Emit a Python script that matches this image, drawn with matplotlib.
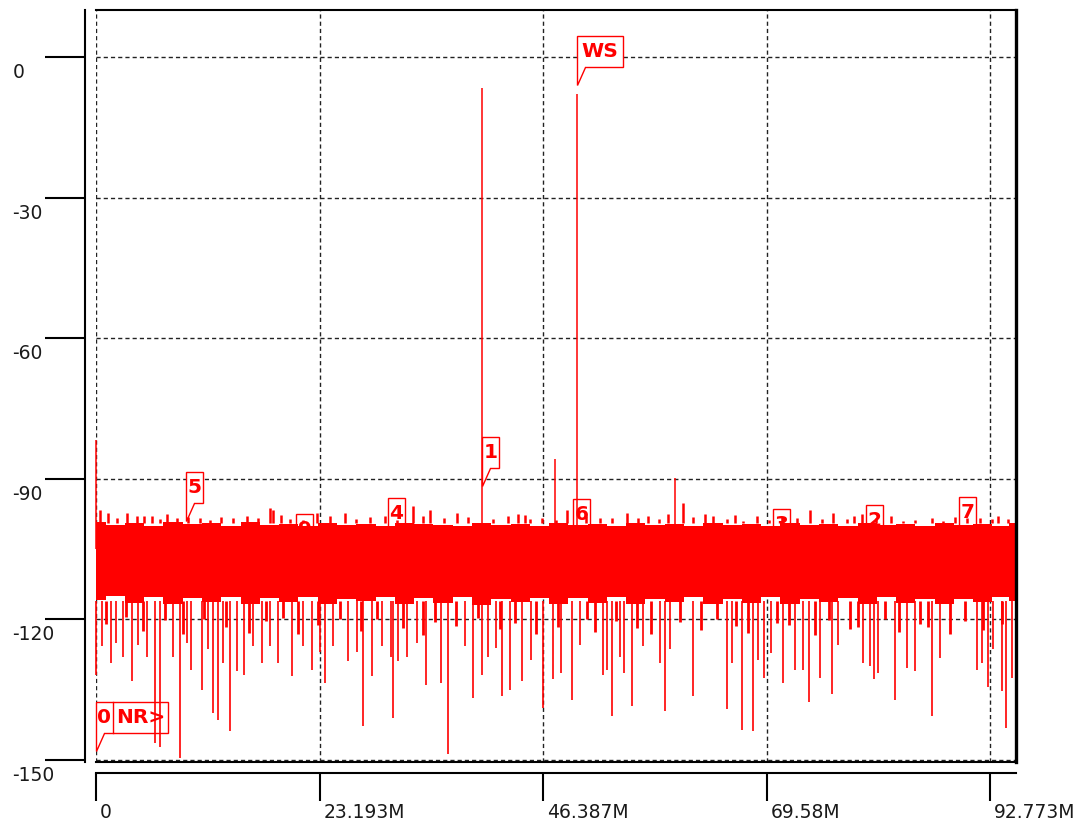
import matplotlib
matplotlib.use('Agg')
import matplotlib.pyplot as plt
import matplotlib.transforms as mtransforms
from matplotlib.patches import Polygon

# axis setup (frequency in MHz, level in dB)
freq_ticks = [0, 23.193, 46.387, 69.58, 92.773]
freq_labels = ['0', '23.193M', '46.387M', '69.58M', '92.773M']
db_ticks = [0, -30, -60, -90, -120, -150]
f_max = 95.44

# solid body of the noise floor
core_f = [0, 2, 4, 6, 8, 10, 12, 14, 16, 18, 20, 22, 24, 26, 28, 30, 32, 34, 36, 38,
          40, 42, 44, 46, 48, 50, 52, 54, 56, 58, 60, 62, 64, 66, 68, 70, 72, 74, 76, 78,
          80, 82, 84, 86, 88, 90, 92, 94, 95.44]
core_top = [-99.2, -99.8, -99.4, -100.0, -99.3, -99.7, -99.5, -100.1, -99.3, -99.8,
            -99.6, -100.0, -99.4, -99.8, -99.6, -100.1, -99.5, -99.7, -99.8, -100.0,
            -99.5, -99.9, -99.6, -100.1, -99.4, -99.8, -99.7, -100.0, -99.5, -99.8,
            -99.7, -100.1, -99.5, -99.9, -99.7, -100.0, -99.4, -99.8, -99.7, -100.1,
            -99.5, -99.8, -99.6, -100.1, -99.5, -99.9, -99.7, -100.0, -99.4]
core_bot = [-115.8, -115.0, -116.5, -115.3, -116.8, -115.5, -116.2, -115.1, -116.6, -115.4,
            -116.3, -115.2, -116.8, -115.6, -116.1, -115.3, -116.7, -115.5, -116.4, -115.2,
            -116.9, -115.6, -116.2, -115.4, -116.6, -115.5, -116.5, -115.1, -116.8, -115.7,
            -116.3, -115.3, -116.6, -115.6, -116.4, -115.2, -116.8, -115.6, -116.2, -115.4,
            -116.7, -115.3, -116.5, -115.6, -116.6, -115.7, -116.3, -115.2, -116.0]

# highest points of the upper fringe
up_f = [0.41, 1.24, 3.22, 4.25, 5.81, 7.37, 8.40, 10.79, 14.21, 15.66,
        18.05, 18.36, 20.12, 22.93, 25.83, 29.98, 32.88, 34.65, 37.45, 42.74,
        43.78, 45.02, 48.86, 52.28, 55.08, 56.22, 59.34, 60.89, 63.17, 64.00,
        67.12, 68.57, 74.07, 76.45, 77.90, 79.46, 83.71, 86.72, 87.86, 91.70,
        92.95, 94.61]
up_db = [-96.6, -97.2, -97.2, -97.9, -97.9, -97.6, -98.3, -98.3, -98.3, -97.9,
         -96.2, -96.6, -98.6, -97.2, -97.2, -97.9, -95.8, -96.6, -97.2, -97.9,
         -97.6, -98.6, -96.6, -98.3, -97.2, -98.3, -97.6, -95.1, -97.6, -97.9,
         -98.9, -97.9, -96.6, -97.2, -98.6, -97.6, -98.9, -98.3, -98.9, -98.3,
         -98.6, -98.6]

# lower ridge of the upper fringe
ridge_f = [2.2, 5.0, 6.6, 9.5, 11.8, 13.0, 16.8, 19.2, 21.5, 24.3,
           27.0, 28.4, 31.2, 33.9, 36.1, 38.6, 41.2, 44.5, 46.3, 47.7,
           50.8, 53.5, 57.3, 58.4, 61.9, 65.5, 66.3, 69.8, 71.2, 72.7,
           75.3, 78.6, 80.9, 82.5, 85.0, 89.1, 90.4, 93.6]
ridge_db = [-98.3, -97.9, -98.6, -98.1, -98.8, -98.2, -98.4, -97.8, -98.7, -98.0,
            -98.5, -98.2, -98.8, -97.9, -98.3, -98.1, -98.6, -97.8, -98.4, -98.7,
            -98.0, -98.3, -97.9, -98.6, -98.2, -98.5, -97.8, -98.7, -98.1, -98.3,
            -98.6, -98.0, -98.4, -97.9, -98.7, -98.2, -98.3, -98.0]

# ragged lower edge of the noise
low_f = [1.0, 3.1, 4.9, 7.2, 9.0, 11.2, 13.5, 15.9, 17.6, 19.4,
         21.0, 23.0, 25.3, 27.5, 29.1, 31.8, 33.9, 35.2, 37.3, 39.6,
         41.9, 43.5, 45.6, 47.9, 50.9, 51.8, 53.9, 56.1, 57.6, 60.6,
         62.8, 64.4, 66.4, 67.6, 70.6, 71.9, 74.6, 76.0, 78.2, 79.1,
         81.9, 83.3, 85.5, 86.3, 88.6, 90.1, 92.0, 94.0]
low_db = [-121.0, -119.5, -122.4, -120.1, -123.0, -119.8, -121.6, -122.8, -120.4, -119.6,
          -123.2, -121.1, -120.0, -122.5, -119.9, -121.8, -123.4, -120.6, -121.3, -119.7,
          -122.1, -120.8, -123.0, -121.5, -119.8, -122.6, -120.3, -121.9, -123.1, -120.5,
          -122.2, -119.9, -121.4, -122.9, -120.7, -121.2, -123.3, -120.1, -122.0, -121.6,
          -119.8, -122.7, -120.9, -121.5, -123.0, -120.4, -122.3, -121.0]

# deep downward spikes
down_f = [0.0, 0.59, 1.52, 2.07, 2.80, 3.70, 4.36, 5.26, 6.12, 6.64, 7.96, 8.71,
          9.41, 9.82, 10.96, 11.65, 12.17, 12.69, 13.17, 13.90, 14.60, 15.35,
          16.32, 17.19, 18.05, 18.88, 20.30, 21.50, 22.38, 23.24, 23.76, 24.62,
          26.17, 27.04, 27.73, 28.60, 29.64, 30.60, 30.78, 31.36, 32.29, 33.27,
          34.23, 35.76, 36.55, 38.28, 39.14, 40.01, 40.70, 41.49, 42.09, 42.95,
          44.16, 45.09, 46.34, 47.38, 48.21, 49.35, 50.21, 52.56, 52.98, 53.50,
          54.36, 54.77, 55.57, 56.77, 58.51, 59.02, 59.54, 61.96, 65.49, 65.94,
          66.98, 68.12, 68.70, 69.33, 69.99, 71.30, 72.51, 73.31, 73.96, 75.10,
          76.32, 77.00, 79.59, 80.29, 80.74, 81.15, 82.88, 84.10, 84.96, 86.75,
          87.55, 91.36, 91.94, 92.56, 93.02, 93.95, 94.40, 94.99]
down_db = [-131.8, -125.7, -129.2, -125.0, -128.0, -133.2, -125.4, -127.9, -146.3, -147.3, -127.9, -149.5,
           -125.0, -130.7, -135.0, -126.4, -139.9, -141.4, -129.2, -143.8, -131.0, -131.8,
           -125.7, -129.2, -125.7, -129.2, -132.1, -125.7, -130.7, -127.0, -133.5, -125.7,
           -128.9, -127.0, -142.8, -132.1, -125.7, -127.9, -141.0, -128.9, -127.9, -125.0,
           -133.9, -133.5, -148.8, -125.7, -136.8, -131.8, -127.9, -126.0, -136.4, -135.0,
           -133.2, -128.6, -138.9, -132.8, -131.4, -137.1, -125.4, -131.8, -130.7, -140.6,
           -127.9, -131.4, -138.5, -125.7, -129.2, -139.6, -126.4, -136.4, -139.2, -129.3,
           -143.5, -143.8, -128.6, -132.5, -127.1, -133.5, -130.7, -130.7, -137.7, -132.5,
           -136.0, -125.4, -129.3, -130.0, -132.8, -131.4, -137.1, -130.3, -131.0, -140.6,
           -128.2, -130.7, -129.3, -134.3, -126.4, -135.3, -143.2, -132.5]

# tones standing above the floor
tone_f = [0.0, 40.04, 47.61, 49.90, 60.06, 95.44]
tone_db = [-81.7, -6.6, -85.7, -7.9, -89.8, -83.0]

# markers
marker_labels = ['0NR>', '5', '9', '4', '1', '6', 'WS', '3', '2', '7']
marker_f = [0.0, 9.34, 20.75, 30.29, 40.04, 49.48, 49.90, 70.23, 79.88, 89.52]
marker_db = [-148.0, -99.1, -108.0, -104.5, -91.5, -104.7, -6.0, -106.8, -106.0, -104.3]

RED = '#ff0000'

fig = plt.figure(figsize=(10.87, 8.23), dpi=100)
ax = fig.add_axes([96 / 1087, 1 - 762 / 823, 920 / 1087, 752 / 823])
ax.set_xlim(0, f_max)
ax.set_ylim(-150.4, 10.0)
ax.autoscale(False)

# frame
ax.spines['left'].set_position(('outward', 8))
ax.spines['bottom'].set_position(('outward', 8))
for s in ['left', 'bottom', 'top']:
    ax.spines[s].set_linewidth(1.5)
ax.spines['right'].set_linewidth(2.4)
ax.plot([0, 1], [0, 0], transform=ax.transAxes, color='black', lw=1.5,
        clip_on=False, zorder=2.5)

ax.set_xticks(freq_ticks)
ax.set_xticklabels(freq_labels)
ax.set_yticks(db_ticks)
ax.set_yticklabels([str(v) for v in db_ticks])
ax.tick_params(axis='y', direction='out', length=28.8, width=1.5, pad=23.3,
               labelsize=13.5, labelcolor='#1a1a1a')
ax.tick_params(axis='x', direction='out', length=20.2, width=1.5, pad=1.5,
               labelsize=13.5, labelcolor='#1a1a1a')
for lbl in ax.get_yticklabels():
    lbl.set_horizontalalignment('left')
    lbl.set_verticalalignment('top')
    lbl.set_transform(lbl.get_transform()
                      + mtransforms.ScaledTranslation(0, -0.06, fig.dpi_scale_trans))
for lbl in ax.get_xticklabels():
    lbl.set_horizontalalignment('left')
    lbl.set_transform(lbl.get_transform()
                      + mtransforms.ScaledTranslation(0.04, 0, fig.dpi_scale_trans))

ax.set_axisbelow(True)
ax.grid(True, color='#222222', linestyle=(0, (3, 2.2)), linewidth=1.0)

# spectrum
ax.fill_between(core_f, core_bot, core_top, step='mid', color=RED, lw=0, zorder=2.2)
ax.vlines(up_f, -99.5, up_db, color=RED, lw=1.8, zorder=2.2)
ax.vlines(ridge_f, -99.5, ridge_db, color=RED, lw=1.8, zorder=2.2)
ax.vlines(low_f, low_db, -116, color=RED, lw=2.0, zorder=2.2)
ax.vlines(down_f, down_db, -116, color=RED, lw=1.2, zorder=2.2, clip_on=False)
ax.vlines(tone_f, -105, tone_db, color=RED, lw=1.1, zorder=2.2, clip_on=False)

# marker callouts drawn in pixels
ident = mtransforms.IdentityTransform()
for lab, f, db in zip(marker_labels, marker_f, marker_db):
    tx, ty = ax.transData.transform((f, db))
    w = 72 if lab == '0NR>' else (46 if len(lab) == 2 else 17)
    b = ty + 18
    t = b + 31
    r = tx + w
    poly = Polygon([(tx, ty), (tx, t), (r, t), (r, b), (tx + 8, b)], closed=True,
                   facecolor='white', edgecolor=RED, lw=1.0, transform=ident,
                   zorder=1.8, clip_on=False)
    ax.add_artist(poly)
    if lab == '0NR>':
        ax.plot([tx + 17, tx + 17], [b, t], color=RED, lw=1.0, transform=ident,
                zorder=1.85, clip_on=False)
        ax.text(tx + 8.5, (b + t) / 2, '0', color=RED, fontsize=14.5, fontweight='bold',
                ha='center', va='center', transform=ident, zorder=1.9)
        ax.text((tx + 17 + r) / 2, (b + t) / 2, 'NR>', color=RED, fontsize=14.5,
                fontweight='bold', ha='center', va='center', transform=ident, zorder=1.9)
    else:
        ax.text((tx + r) / 2, (b + t) / 2, lab, color=RED, fontsize=14.5,
                fontweight='bold', ha='center', va='center', transform=ident, zorder=1.9)

fig.savefig('out.png', dpi=100)
